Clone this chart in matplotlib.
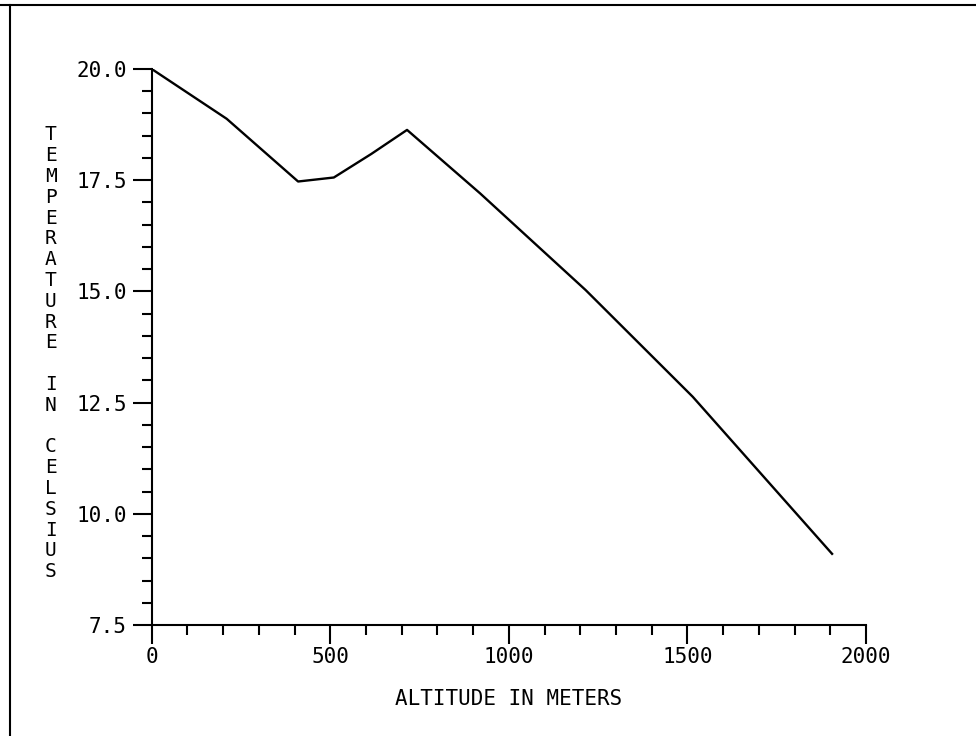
import matplotlib
matplotlib.use('Agg')
from matplotlib import pyplot as plt
from matplotlib.ticker import MultipleLocator, FormatStrFormatter
from matplotlib.lines import Line2D

# altitude (m) and temperature (C)
altitude = [0, 210, 410, 510, 615, 715, 920, 1215, 1515, 1905]
temperature = [20.0, 18.88, 17.47, 17.56, 18.09, 18.63, 17.2, 15.03, 12.63, 9.1]

x_ticks = [0, 500, 1000, 1500, 2000]
y_ticks = [7.5, 10.0, 12.5, 15.0, 17.5, 20.0]

ylabel_words = ['TEMPERATURE', 'IN', 'CELSIUS']
xlabel = 'ALTITUDE IN METERS'

plt.rcParams['font.family'] = ['DejaVu Sans Mono']

fig = plt.figure(figsize=(9.76, 7.36), dpi=100)
ax = fig.add_axes([0.1554, 0.1508, 0.7319, 0.7555])

ax.plot(altitude, temperature, color='black', linewidth=1.7)

ax.set_xlim(0, 2000)
ax.set_ylim(7.5, 20.0)
ax.set_xticks(x_ticks)
ax.set_yticks(y_ticks)
ax.xaxis.set_minor_locator(MultipleLocator(100))
ax.yaxis.set_minor_locator(MultipleLocator(0.5))
ax.yaxis.set_major_formatter(FormatStrFormatter('%.1f'))

for s in ['top', 'right']:
    ax.spines[s].set_visible(False)
for s in ['left', 'bottom']:
    ax.spines[s].set_linewidth(1.5)

ax.tick_params(axis='both', which='major', direction='out', length=14, width=1.5, labelsize=15)
ax.tick_params(axis='both', which='minor', direction='out', length=7, width=1.5)
ax.tick_params(axis='x', which='major', pad=2)
ax.tick_params(axis='y', which='major', pad=4)

ax.set_xlabel(xlabel, fontsize=15, labelpad=16)

# stacked vertical y label
stacked = '\n\n'.join('\n'.join(w) for w in ylabel_words)
fig.text(0.052, 0.52, stacked, fontsize=14, ha='center', va='center',
         linespacing=1.12)

# page frame (top and left edges only)
fig.add_artist(Line2D([0, 1], [0.993, 0.993], color='black', linewidth=1.5,
                      transform=fig.transFigure))
fig.add_artist(Line2D([0.010, 0.010], [0, 0.993], color='black', linewidth=1.5,
                      transform=fig.transFigure))

fig.savefig('out.png', dpi=100)
